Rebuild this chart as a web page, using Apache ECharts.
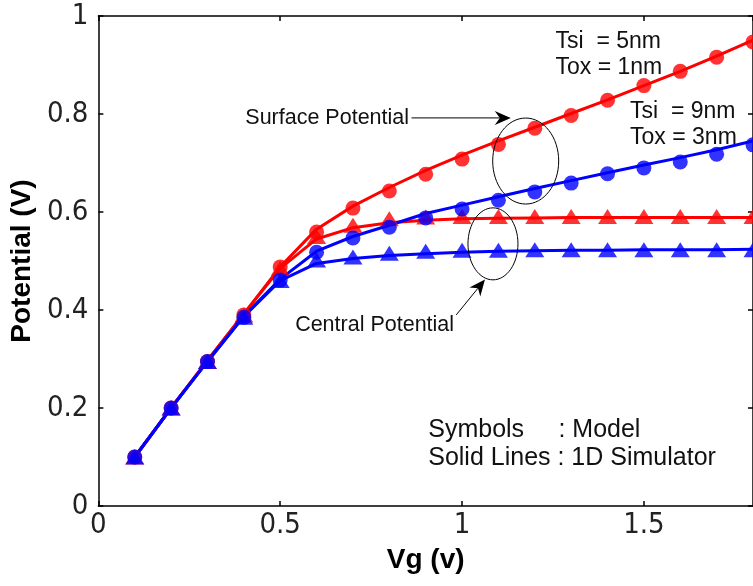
<!DOCTYPE html>
<html><head><meta charset="utf-8">
<script src="https://cdn.jsdelivr.net/npm/echarts@6/dist/echarts.min.js"></script>
<style>html,body{margin:0;padding:0;background:#fff}#c{width:753px;height:586px}</style>
</head><body><div id="c"></div>
<script>
const vg = [0.1,0.2,0.3,0.4,0.5,0.6,0.7,0.8,0.9,1.0,1.1,1.2,1.3,1.4,1.5,1.6,1.7,1.8];
// Tsi=5nm, Tox=1nm (red)
const surf5Model = [0.1,0.2,0.295,0.39,0.488,0.559,0.608,0.643,0.677,0.708,0.738,0.771,0.797,0.828,0.858,0.887,0.916,0.947];
const surf5Sim   = [0.1,0.2,0.297,0.392,0.488,0.565,0.612,0.65,0.685,0.716,0.745,0.773,0.801,0.829,0.858,0.887,0.918,0.951];
const cent5Model = [0.1,0.2,0.295,0.39,0.485,0.55,0.573,0.586,0.59,0.591,0.591,0.591,0.591,0.591,0.591,0.591,0.591,0.591];
const cent5Sim   = [0.1,0.2,0.297,0.392,0.485,0.545,0.568,0.578,0.583,0.586,0.587,0.588,0.589,0.589,0.589,0.589,0.589,0.589];
// Tsi=9nm, Tox=3nm (blue)
const surf9Model = [0.1,0.2,0.295,0.385,0.461,0.518,0.547,0.569,0.588,0.606,0.624,0.641,0.659,0.678,0.69,0.702,0.718,0.737];
const surf9Sim   = [0.1,0.2,0.295,0.387,0.463,0.52,0.55,0.573,0.597,0.614,0.631,0.648,0.664,0.68,0.696,0.711,0.727,0.745];
const cent9Model = [0.1,0.2,0.295,0.385,0.46,0.502,0.508,0.516,0.52,0.522,0.522,0.523,0.523,0.523,0.523,0.523,0.523,0.523];
const cent9Sim   = [0.1,0.2,0.295,0.387,0.46,0.495,0.505,0.511,0.515,0.518,0.52,0.521,0.522,0.522,0.523,0.523,0.523,0.524];
const xTicks = [0,0.5,1,1.5];
const yTicks = [0,0.2,0.4,0.6,0.8,1];

const RED = '#ff0000', BLUE = '#0000ff';
const FONT = 'Liberation Sans, Arial, sans-serif';
const NARROW = '"Liberation Sans Narrow", "Arial Narrow", "DejaVu Sans Condensed", sans-serif';
const pair = ys => vg.map((x,i)=>[x,ys[i]]);

const chart = echarts.init(document.getElementById('c'), null, {renderer:'canvas'});
const axisCommon = {
  axisLine:{show:true,onZero:false,lineStyle:{color:'#000',width:1.5}},
  axisTick:{show:true,inside:true,length:5,lineStyle:{color:'#000',width:1.5}},
  splitLine:{show:false}
};
function lineSeries(ys,color){
  return {type:'line',data:pair(ys),showSymbol:false,symbol:'none',lineStyle:{color,width:3},itemStyle:{color},z:2,silent:true};
}
function scatterSeries(ys,color,sym,size){
  return {type:'scatter',data:pair(ys),symbol:sym,symbolSize:size,itemStyle:{color},z:3,silent:true};
}
chart.setOption({
  animation:false,
  grid:{left:95,top:16,right:-1,bottom:80,containLabel:false},
  xAxis:[
    Object.assign({type:'value',min:0,max:1.8,interval:0.5,position:'bottom',
      name:'Vg (v)',nameLocation:'middle',nameGap:40,
      nameTextStyle:{fontFamily:FONT,fontSize:28,fontWeight:'bold',color:'#000'},
      axisLabel:{show:true,margin:5,fontFamily:NARROW,fontSize:29,color:'#222',showMaxLabel:false,
        formatter:v=>xTicks.includes(v)?String(v):''}},axisCommon),
    Object.assign({type:'value',min:0,max:1.8,interval:0.5,position:'top',axisLabel:{show:false}},axisCommon)
  ],
  yAxis:[
    Object.assign({type:'value',min:0,max:1,interval:0.2,position:'left',
      name:'Potential (V)',nameLocation:'middle',nameGap:61,nameRotate:90,
      nameTextStyle:{fontFamily:FONT,fontSize:28,fontWeight:'bold',color:'#000'},
      axisLabel:{show:true,margin:10,fontFamily:NARROW,fontSize:29,color:'#222',
        formatter:v=>{const t=yTicks.find(k=>Math.abs(k-v)<1e-9);return t===undefined?'':String(t);}}},axisCommon),
    Object.assign({type:'value',min:0,max:1,interval:0.2,position:'right',axisLabel:{show:false}},axisCommon)
  ],
  series:[
    lineSeries(surf5Sim,RED), lineSeries(cent5Sim,RED),
    scatterSeries(surf5Model,RED,'circle',15), scatterSeries(cent5Model,RED,'triangle',[19,15]),
    lineSeries(surf9Sim,BLUE), lineSeries(cent9Sim,BLUE),
    scatterSeries(surf9Model,BLUE,'circle',15), scatterSeries(cent9Model,BLUE,'triangle',[19,15])
  ]
});

// Annotations (positions in data coordinates)
const P = (x,y)=>chart.convertToPixel({xAxisIndex:0,yAxisIndex:0},[x,y]);
const g = [];
function text(x,y,s,size){
  const p=P(x,y);
  g.push({type:'text',x:p[0],y:p[1],z:10,style:{text:s,font:`${size}px ${FONT}`,fill:'#111',textAlign:'left',textVerticalAlign:'middle'}});
}
function ellipse(x,y,rx,ry){
  const p=P(x,y);
  g.push({type:'ellipse',z:10,shape:{cx:p[0],cy:p[1],rx,ry},style:{fill:null,stroke:'#000',lineWidth:1}});
}
function arrow(x1,y1,x2,y2){
  const a=P(x1,y1), b=P(x2,y2);
  const dx=b[0]-a[0], dy=b[1]-a[1], L=Math.hypot(dx,dy), ux=dx/L, uy=dy/L, nx=-uy, ny=ux;
  const hl=16, hw=7, back=11;
  const base=[b[0]-ux*back,b[1]-uy*back];
  g.push({type:'line',z:10,shape:{x1:a[0],y1:a[1],x2:base[0],y2:base[1]},style:{stroke:'#000',lineWidth:1}});
  g.push({type:'polygon',z:10,shape:{points:[
    [b[0],b[1]],
    [b[0]-ux*hl+nx*hw,b[1]-uy*hl+ny*hw],
    base,
    [b[0]-ux*hl-nx*hw,b[1]-uy*hl-ny*hw]
  ]},style:{fill:'#000'}});
}
text(0.404,0.792,'Surface Potential',21.5);
arrow(0.861,0.792,1.134,0.792);
ellipse(1.175,0.704,33,43);
ellipse(1.085,0.535,25,36);
text(0.541,0.369,'Central Potential',21.5);
arrow(0.984,0.39,1.063,0.462);
text(1.257,0.947,'Tsi  = 5nm',23);
text(1.257,0.894,'Tox = 1nm',23);
text(1.462,0.804,'Tsi  = 9nm',23);
text(1.462,0.751,'Tox = 3nm',23);
text(0.907,0.155,'Symbols',25);
text(1.265,0.155,': Model',25);
text(0.907,0.098,'Solid Lines : 1D Simulator',25);
chart.setOption({graphic:g});
</script></body></html>
